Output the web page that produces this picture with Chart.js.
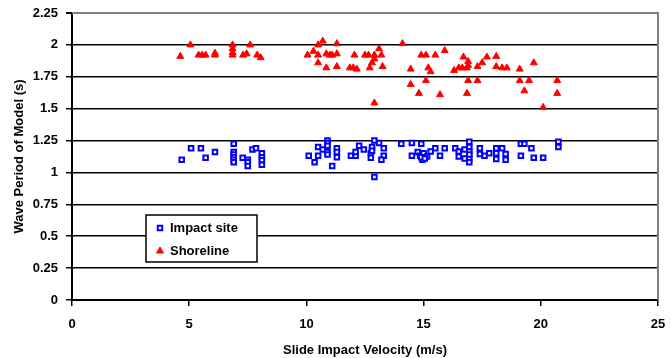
<!DOCTYPE html>
<html><head><meta charset="utf-8">
<script src="https://cdn.jsdelivr.net/npm/chart.js@4/dist/chart.umd.min.js"></script>
<style>html,body{margin:0;padding:0;background:#fff;overflow:hidden}#wrap{width:671px;height:358px}</style>
</head><body><div id="wrap"><canvas id="c" width="671" height="358"></canvas></div>
<script>
const xTickLabels = ['0','5','10','15','20','25'];
const yTickLabels = ['0','0.25','0.5','0.75','1','1.25','1.5','1.75','2','2.25'];
const seriesNames = ['Impact site','Shoreline'];

const impactX = [4.68,5.08,5.5,5.7,6.1,6.9,6.9,6.9,6.9,6.9,6.9,7.28,7.5,7.5,7.5,7.7,7.85,8.1,8.1,8.1,8.1,
 10.1,10.35,10.5,10.5,10.7,10.9,10.9,10.9,10.9,10.9,11.1,11.3,11.3,11.3,11.9,12.1,12.1,12.25,12.45,12.75,12.75,12.9,12.8,12.8,12.9,13.1,13.3,13.3,13.2,14.05,14.5,14.9,14.5,14.75,14.85,14.95,15.0,
 15.15,15.3,15.5,15.7,15.9,16.35,16.5,16.5,16.75,16.75,16.95,16.95,16.95,16.95,16.95,17.4,17.4,17.6,17.8,18.1,18.1,18.1,18.35,18.5,18.5,19.15,19.3,19.6,19.15,19.7,20.1,20.75,20.75,
 14.9,15.05,16.95];
const impactY = [1.10,1.19,1.19,1.115,1.16,1.225,1.16,1.14,1.12,1.10,1.08,1.115,1.10,1.08,1.05,1.18,1.19,1.15,1.12,1.095,1.06,
 1.13,1.08,1.20,1.13,1.18,1.25,1.23,1.21,1.16,1.14,1.05,1.19,1.16,1.12,1.13,1.13,1.16,1.21,1.18,1.15,1.115,1.25,1.20,1.17,0.965,1.23,1.19,1.13,1.10,1.225,1.23,1.225,1.13,1.16,1.13,1.10,1.15,
 1.125,1.165,1.19,1.13,1.19,1.19,1.165,1.125,1.18,1.11,1.24,1.20,1.165,1.11,1.08,1.19,1.145,1.13,1.15,1.19,1.15,1.105,1.19,1.145,1.10,1.225,1.225,1.19,1.13,1.115,1.115,1.24,1.20,
 1.12,1.11,1.14];

const shoreX = [4.62,5.05,5.4,5.55,5.7,6.1,6.1,6.85,6.85,6.85,6.85,7.3,7.45,7.6,7.9,8.05,
 10.05,10.3,10.5,10.5,10.7,10.5,10.85,10.85,11.0,11.1,11.3,11.3,11.3,11.85,12.0,12.15,12.05,12.5,12.65,12.7,12.8,12.9,12.9,13.1,13.2,13.25,12.9,14.1,14.45,14.9,15.1,15.2,14.45,15.1,14.8,
 15.5,15.9,15.3,15.7,16.3,16.7,16.5,16.65,16.85,16.9,16.9,16.9,16.85,17.3,17.3,17.5,17.7,18.1,18.1,18.35,18.55,19.1,19.1,19.5,19.3,19.7,20.1,20.7,20.7];
const shoreY = [1.91,2.0,1.92,1.92,1.92,1.92,1.935,2.0,1.97,1.94,1.92,1.92,1.93,2.0,1.92,1.9,
 1.92,1.95,2.0,1.92,2.03,1.86,1.93,1.82,1.92,1.92,2.01,1.93,1.83,1.82,1.82,1.81,1.92,1.92,1.92,1.82,1.86,1.92,1.89,1.97,1.92,1.83,1.545,2.01,1.81,1.92,1.92,1.82,1.69,1.72,1.62,
 1.92,1.955,1.79,1.61,1.80,1.905,1.82,1.82,1.82,1.87,1.84,1.72,1.62,1.83,1.72,1.86,1.905,1.91,1.83,1.82,1.82,1.81,1.72,1.72,1.64,1.86,1.51,1.72,1.62];

const FONT = '"Liberation Sans", Arial, Helvetica, sans-serif';
const toPts = (xs, ys) => xs.map((x, i) => ({x: x, y: ys[i]}));

const legendBox = {
  id: 'legendBox',
  afterDatasetsDraw(chart) {
    const ctx = chart.ctx;
    const bx = 146, by = 215, bw = 111, bh = 47;
    ctx.save();
    ctx.fillStyle = '#fff';
    ctx.fillRect(bx, by, bw, bh);
    ctx.strokeStyle = '#000';
    ctx.lineWidth = 1.5;
    ctx.strokeRect(bx, by, bw, bh);
    chart.data.datasets.forEach((ds, i) => {
      const cy = by + 13 + i * 23;
      ctx.fillStyle = ds.pointBackgroundColor;
      ctx.strokeStyle = ds.pointBorderColor;
      ctx.lineWidth = ds.pointBorderWidth;
      Chart.helpers.drawPoint(ctx, {pointStyle: ds.pointStyle, radius: ds.pointRadius, borderWidth: ds.pointBorderWidth, rotation: 0}, bx + 14, cy);
      ctx.fillStyle = '#000';
      ctx.font = 'bold 13px ' + FONT;
      ctx.textBaseline = 'middle';
      ctx.textAlign = 'left';
      ctx.fillText(ds.label, bx + 24, cy);
    });
    ctx.restore();
  }
};

const frame = {
  id: 'frame',
  afterDraw(chart) {
    const a = chart.chartArea, ctx = chart.ctx;
    ctx.save();
    ctx.strokeStyle = '#808080';
    ctx.lineWidth = 2;
    ctx.beginPath();
    ctx.moveTo(a.left, a.top);
    ctx.lineTo(a.right, a.top);
    ctx.lineTo(a.right, a.bottom);
    ctx.stroke();
    ctx.restore();
  }
};

new Chart(document.getElementById('c'), {
  type: 'scatter',
  data: {
    datasets: [
      {label: seriesNames[0], data: toPts(impactX, impactY), pointStyle: 'rect', pointRadius: 3.2,
       pointBackgroundColor: '#ffffff', pointBorderColor: '#0000ff', pointBorderWidth: 2,
       backgroundColor: '#ffffff', borderColor: '#0000ff'},
      {label: seriesNames[1], data: toPts(shoreX, shoreY), pointStyle: 'triangle', pointRadius: 4,
       pointBackgroundColor: '#ff0000', pointBorderColor: '#ff0000', pointBorderWidth: 1,
       backgroundColor: '#ff0000', borderColor: '#ff0000'}
    ]
  },
  options: {
    responsive: false,
    animation: false,
    layout: {padding: {left: 0, right: 13, top: 13, bottom: 0}},
    plugins: {legend: {display: false}, tooltip: {enabled: false}},
    scales: {
      x: {
        type: 'linear', min: 0, max: 25,
        afterFit: s => { s.height = 58; s.paddingLeft = 0; s.paddingRight = 0; },
        ticks: {stepSize: 5, padding: 11, color: '#000', font: {family: FONT, size: 13, weight: 'bold'},
                callback: (v, i) => xTickLabels[i]},
        grid: {drawOnChartArea: false, drawTicks: true, tickLength: 6, color: '#000', tickColor: '#000', lineWidth: 1.5},
        border: {display: true, color: '#000', width: 2},
        title: {display: true, text: 'Slide Impact Velocity (m/s)', color: '#000',
                font: {family: FONT, size: 13, weight: 'bold'}, padding: {top: 0, bottom: 0}}
      },
      y: {
        type: 'linear', min: 0, max: 2.25,
        afterFit: s => { s.width = 72; s.paddingTop = 0; s.paddingBottom = 0; },
        ticks: {stepSize: 0.25, padding: 8, color: '#000', font: {family: FONT, size: 13, weight: 'bold'},
                callback: (v, i) => yTickLabels[i]},
        grid: {drawOnChartArea: true, drawTicks: true, tickLength: 6,
               color: c => (c.tick && c.tick.value === 2.25) ? '#808080' : '#000',
               lineWidth: c => (c.tick && c.tick.value === 2.25) ? 2 : 1.5,
               tickColor: '#000'},
        border: {display: true, color: '#000', width: 2},
        title: {display: true, text: 'Wave Period of Model (s)', color: '#000',
                font: {family: FONT, size: 13, weight: 'bold'}, padding: {top: 12, bottom: 0}}
      }
    }
  },
  plugins: [legendBox, frame]
});
</script>
</body></html>
